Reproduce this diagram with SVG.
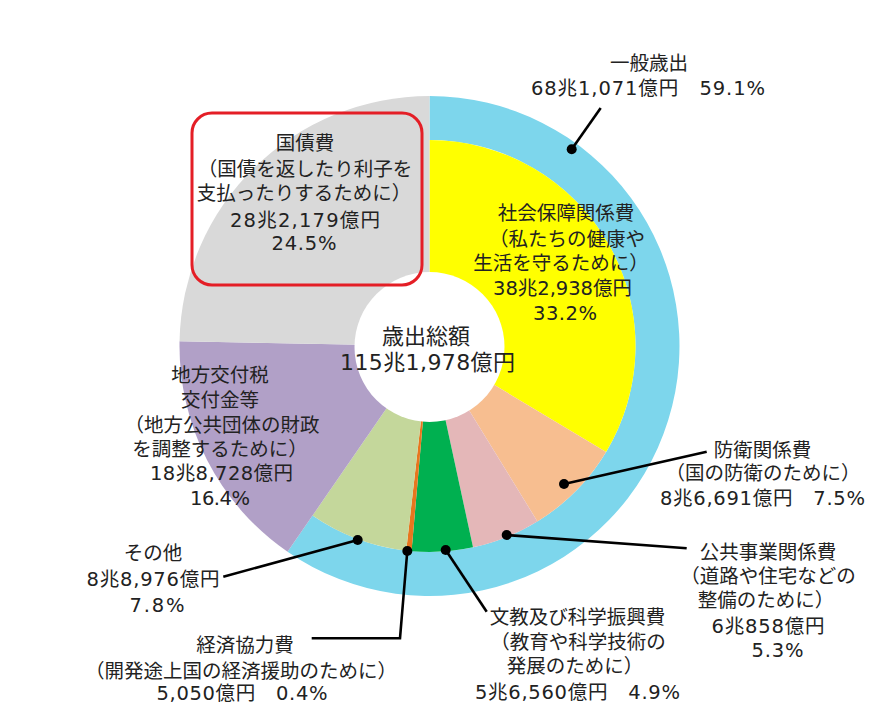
<svg xmlns="http://www.w3.org/2000/svg" width="882" height="712" viewBox="0 0 882 712">
<style>
text{font-family:"DejaVu Sans","Noto Sans CJK JP",sans-serif;font-size:19.5px;fill:#222;text-anchor:middle}
.big{font-size:22px}
.lead{stroke:#000;stroke-width:2.6;fill:none}
.dot{fill:#000}
</style>
<rect width="882" height="712" fill="#fff"/>
<g id="pie">
<path id="ring-general" d="M429.5,96 A250,250 0 1 1 287.54,551.79 L312.52,515.57 A206,206 0 1 0 429.5,140 Z" fill="#7dd6ec"/>
<path id="slice-social" d="M429.5,346 L429.5,140 A206,206 0 0 1 606.08,452.10 Z" fill="#ffff00"/>
<path id="slice-defense" d="M429.5,346 L606.08,452.10 A206,206 0 0 1 537.44,521.46 Z" fill="#f7be90"/>
<path id="slice-public" d="M429.5,346 L537.44,521.46 A206,206 0 0 1 473.03,547.35 Z" fill="#e4b7b8"/>
<path id="slice-science" d="M429.5,346 L473.03,547.35 A206,206 0 0 1 411.55,551.22 Z" fill="#00b050"/>
<path id="slice-econ" d="M429.5,346 L411.55,551.22 A206,206 0 0 1 406.18,550.68 Z" fill="#e8761e"/>
<path id="slice-other" d="M429.5,346 L406.18,550.68 A206,206 0 0 1 312.52,515.57 Z" fill="#c4d79b"/>
<path id="slice-local" d="M429.5,346 L287.54,551.79 A250,250 0 0 1 179.54,341.2 Z" fill="#b1a0c7"/>
<path id="slice-debt" d="M429.5,346 L179.54,341.2 A250,250 0 0 1 429.5,96 Z" fill="#d9d9d9"/>
<circle id="hole" cx="429.5" cy="347" r="75" fill="#fff"/>
</g>
<g id="connectors">
<path class="lead" d="M571.7,149.3 L600.7,108"/>
<path class="lead" d="M564,484 L706.7,451.7"/>
<path class="lead" d="M506.7,535 L686.7,548.3"/>
<path class="lead" d="M445.7,550 L486.7,611.7"/>
<path class="lead" d="M407.3,551 L400,638.3 L311.7,638.3"/>
<path class="lead" d="M357.7,540 L223.3,576.7"/>
<circle class="dot" cx="571.7" cy="149.3" r="5"/>
<circle class="dot" cx="564" cy="484" r="5"/>
<circle class="dot" cx="506.7" cy="535" r="5"/>
<circle class="dot" cx="445.7" cy="550" r="5"/>
<circle class="dot" cx="407.3" cy="551" r="5"/>
<circle class="dot" cx="357.7" cy="540" r="5"/>
</g>
<g id="center-label">
<text class="big" x="426" y="344">歳出総額</text>
<text class="big" x="427.5" y="370" textLength="175" lengthAdjust="spacing">115兆1,978億円</text>
</g>
<g id="label-general">
<text x="649" y="70">一般歳出</text>
<text x="648" y="95" textLength="234" lengthAdjust="spacing">68兆1,071億円　59.1%</text>
</g>
<g id="label-debt">
<rect x="192" y="113" width="230" height="172" rx="20" ry="20" fill="none" stroke="#e41e26" stroke-width="3"/>
<text x="305" y="150">国債費</text>
<text x="305" y="176">（国債を返したり利子を</text>
<text x="304" y="200">支払ったりするために）</text>
<text x="305" y="227" textLength="150" lengthAdjust="spacing">28兆2,179億円</text>
<text x="304" y="250" textLength="65" lengthAdjust="spacing">24.5%</text>
</g>
<g id="label-social">
<text x="566" y="220">社会保障関係費</text>
<text x="567" y="246">（私たちの健康や</text>
<text x="561" y="270">生活を守るために）</text>
<text x="562.5" y="295" textLength="139" lengthAdjust="spacing">38兆2,938億円</text>
<text x="565" y="320" textLength="64" lengthAdjust="spacing">33.2%</text>
</g>
<g id="label-local">
<text x="220" y="382">地方交付税</text>
<text x="220" y="407">交付金等</text>
<text x="222" y="432">（地方公共団体の財政</text>
<text x="220" y="456">を調整するために）</text>
<text x="221.5" y="480" textLength="143" lengthAdjust="spacing">18兆8,728億円</text>
<text x="220" y="505" textLength="60" lengthAdjust="spacing">16.4%</text>
</g>
<g id="label-defense">
<text x="762.5" y="457">防衛関係費</text>
<text x="763" y="480">（国の防衛のために）</text>
<text x="762.5" y="505" textLength="205" lengthAdjust="spacing">8兆6,691億円　7.5%</text>
</g>
<g id="label-public">
<text x="768" y="559">公共事業関係費</text>
<text x="768" y="583">（道路や住宅などの</text>
<text x="766" y="607">整備のために）</text>
<text x="768" y="633" textLength="113" lengthAdjust="spacing">6兆858億円</text>
<text x="777.5" y="657" textLength="52" lengthAdjust="spacing">5.3%</text>
</g>
<g id="label-science">
<text x="577.5" y="624">文教及び科学振興費</text>
<text x="578" y="649">（教育や科学技術の</text>
<text x="575" y="673">発展のために）</text>
<text x="577.5" y="699" textLength="205" lengthAdjust="spacing">5兆6,560億円　4.9%</text>
</g>
<g id="label-econ">
<text x="245" y="652">経済協力費</text>
<text x="241" y="678">（開発途上国の経済援助のために）</text>
<text x="242" y="700" textLength="171" lengthAdjust="spacing">5,050億円　0.4%</text>
</g>
<g id="label-other">
<text x="153" y="560">その他</text>
<text x="153" y="586" textLength="133" lengthAdjust="spacing">8兆8,976億円</text>
<text x="157" y="612" textLength="55" lengthAdjust="spacing">7.8%</text>
</g>
</svg>
